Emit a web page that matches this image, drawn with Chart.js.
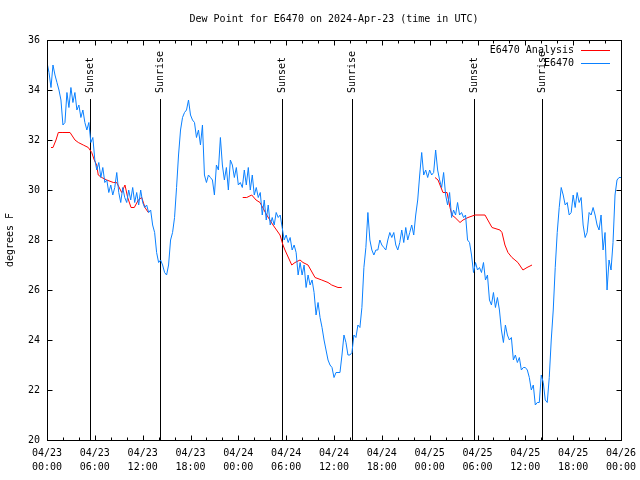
<!DOCTYPE html>
<html>
<head>
<meta charset="utf-8">
<script src="https://cdn.jsdelivr.net/npm/chart.js@4"></script>
<style>
  body { margin: 0; background: #fff; }
  canvas { display: block; }
</style>
</head>
<body>
<canvas id="dewChart" width="640" height="480"></canvas>
<script>
// Dew point, E6470 - x values are hours after 04/23 00:00 UTC

// station obs, one value every 15 minutes
const obsStepHours = 0.25;
const observedDew = [
    35.1, 34.7, 34.1, 35.0, 34.6, 34.3, 34.0, 33.6, 32.6, 32.7,
    33.9, 33.3, 34.1, 33.5, 33.9, 33.2, 33.4, 32.9, 33.2, 32.7,
    32.4, 32.7, 31.9, 32.1, 31.2, 30.8, 31.1, 30.5, 30.9, 30.3,
    30.4, 29.9, 30.2, 29.8, 30.1, 30.7, 29.9, 29.5, 30.1, 29.7,
    29.5, 30.0, 29.6, 30.1, 29.5, 29.9, 29.4, 30.0, 29.5, 29.3,
    29.4, 29.1, 29.2, 28.6, 28.3, 27.5, 27.1, 27.2, 27.0, 26.7,
    26.6, 27.0, 28.0, 28.3, 28.9, 30.1, 31.4, 32.4, 32.9, 33.1,
    33.2, 33.6, 33.0, 32.8, 32.7, 32.1, 32.4, 31.8, 32.6, 30.6,
    30.3, 30.6, 30.5, 30.4, 29.8, 31.0, 30.8, 32.1, 31.0, 30.4,
    30.9, 30.0, 31.2, 31.0, 30.5, 30.9, 30.2, 30.3, 30.1, 30.8,
    30.2, 30.9, 30.0, 30.6, 29.8, 30.1, 29.7, 29.9, 29.0, 29.6,
    28.8, 29.4, 28.6, 28.9, 28.6, 29.1, 28.9, 29.0, 28.5, 28.0,
    28.2, 27.9, 28.1, 27.6, 27.8, 27.5, 26.6, 27.1, 26.6, 27.0,
    26.1, 26.6, 26.2, 26.4, 25.9, 25.0, 25.5, 24.9, 24.5, 24.0,
    23.6, 23.2, 23.0, 22.9, 22.5, 22.7, 22.7, 22.7, 23.4, 24.2,
    23.9, 23.4, 23.4, 23.5, 24.2, 24.1, 24.6, 24.5, 25.3, 26.9,
    27.7, 29.1, 28.0, 27.6, 27.4, 27.6, 27.6, 28.0, 27.8, 27.7,
    27.6, 28.0, 28.3, 28.1, 28.3, 27.8, 27.6, 27.9, 28.4, 27.9,
    28.5, 28.0, 28.3, 28.6, 28.2, 29.0, 29.6, 30.6, 31.5, 30.6,
    30.8, 30.5, 30.8, 30.6, 30.7, 31.6, 30.8, 30.4, 30.1, 30.7,
    29.8, 29.4, 29.9, 28.9, 29.2, 29.0, 29.5, 29.0, 29.1, 28.9,
    29.0, 28.0, 27.9, 27.4, 26.7, 27.1, 26.8, 26.9, 26.7, 27.1,
    26.4, 26.6, 25.6, 25.4, 25.9, 25.3, 25.7, 25.2, 24.4, 23.9,
    24.6, 24.2, 24.0, 24.1, 23.2, 23.4, 23.1, 23.3, 22.8, 22.9,
    22.9, 22.8, 22.5, 22.0, 22.2, 21.4, 21.5, 21.5, 22.6, 22.3,
    21.6, 21.5, 22.5, 24.0, 25.2, 26.9, 28.3, 29.3, 30.1, 29.8,
    29.4, 29.5, 29.0, 29.1, 29.8, 29.3, 29.9, 29.5, 29.7, 28.6,
    28.1, 28.3, 29.1, 29.0, 29.3, 29.0, 28.6, 28.4, 29.0, 27.6,
    28.3, 26.0, 27.2, 26.8, 27.9, 29.8, 30.4, 30.5, 30.5
];

// analysis, null = no analysis for that stretch
const analysisHours = [
    0.50, 0.75, 1.13, 1.42, 2.00, 2.89, 3.51, 3.93, 4.55, 5.18,
    5.61, 5.93, 6.23, 6.43, 6.86, 7.49, 8.32, 8.74, 9.37, 9.78,
    10.12, 10.54, 10.95, 11.45, 11.88, 12.29, 12.71, 18.00,
    24.55, 25.05, 25.68, 26.22, 26.72, 27.56, 28.35, 29.23, 29.60, 29.85,
    30.70, 31.11, 31.74, 32.11, 32.74, 33.62, 34.46, 35.25, 35.71, 36.50,
    36.97, 43.00,
    48.67, 49.05, 49.67, 50.18, 50.55, 50.80, 51.18, 51.81, 52.18, 52.81,
    53.69, 54.94, 55.82, 56.82, 57.07, 57.44, 57.82, 58.32, 58.70, 59.07,
    59.70, 60.21, 60.84
];
const analysisDew = [
    31.7, 31.7, 32.0, 32.3, 32.3, 32.3, 32.0, 31.9, 31.8, 31.7,
    31.5, 31.2, 31.0, 30.6, 30.5, 30.4, 30.3, 30.3, 29.9, 30.2,
    29.7, 29.3, 29.3, 29.6, 29.7, 29.3, 29.1, null,
    29.7, 29.7, 29.8, 29.6, 29.5, 29.0, 28.6, 28.2, 27.8, 27.6,
    27.0, 27.1, 27.2, 27.1, 27.0, 26.5, 26.4, 26.3, 26.2, 26.1,
    26.1, null,
    30.5, 30.4, 29.9, 29.9, 29.3, 29.0, 28.9, 28.7, 28.8, 28.9,
    29.0, 29.0, 28.5, 28.4, 28.3, 27.8, 27.5, 27.3, 27.2, 27.1,
    26.8, 26.9, 27.0
];

const sunEventHours = [5.43, 14.21, 29.52, 38.22, 53.60, 62.13];
const sunEventNames = ['Sunset', 'Sunrise', 'Sunset', 'Sunrise', 'Sunset', 'Sunrise'];

const xTickDays = ['04/23', '04/23', '04/23', '04/23', '04/24', '04/24', '04/24',
                   '04/24', '04/25', '04/25', '04/25', '04/25', '04/26'];
const xTickTimes = ['00:00', '06:00', '12:00', '18:00', '00:00', '06:00', '12:00',
                    '18:00', '00:00', '06:00', '12:00', '18:00', '00:00'];
const yTickValues = [20, 22, 24, 26, 28, 30, 32, 34, 36];

const MONO = "'DejaVu Sans Mono', 'Liberation Mono', monospace";

// ─── gnuplot-ish decorations: sun lines, frame, inward ticks, legend ───
const gnuplotLook = {
    id: 'gnuplotLook',
    beforeDatasetsDraw(chart) {
        const { ctx, chartArea: area, scales: { x } } = chart;
        ctx.save();
        ctx.strokeStyle = '#000';
        ctx.fillStyle = '#000';
        ctx.lineWidth = 1;
        ctx.font = '10px ' + MONO;
        sunEventHours.forEach((h, i) => {
            const px = Math.round(x.getPixelForValue(h)) + 0.5;
            ctx.beginPath();
            ctx.moveTo(px, area.top + 59);
            ctx.lineTo(px, area.bottom);
            ctx.stroke();

            ctx.save();
            ctx.translate(px, area.top + 53);
            ctx.rotate(-Math.PI / 2);
            ctx.textAlign = 'left';
            ctx.textBaseline = 'middle';
            ctx.fillText(sunEventNames[i], 0, 0);
            ctx.restore();
        });
        ctx.restore();
    },
    afterDraw(chart) {
        const { ctx, chartArea: area, scales: { x, y } } = chart;
        ctx.save();
        ctx.strokeStyle = '#000';
        ctx.lineWidth = 1;
        const l = Math.round(area.left) + 0.5, r = Math.round(area.right) + 0.5;
        const t = Math.round(area.top) + 0.5, b = Math.round(area.bottom) + 0.5;
        ctx.strokeRect(l, t, r - l, b - t);

        ctx.beginPath();
        yTickValues.forEach(v => {
            const py = Math.round(y.getPixelForValue(v)) + 0.5;
            ctx.moveTo(l, py); ctx.lineTo(l + 5, py);
            ctx.moveTo(r, py); ctx.lineTo(r - 5, py);
        });
        for (let h = 0; h <= 72; h += 2) {
            const px = Math.round(x.getPixelForValue(h)) + 0.5;
            const len = h % 6 === 0 ? 5 : 3;
            ctx.moveTo(px, b); ctx.lineTo(px, b - len);
            ctx.moveTo(px, t); ctx.lineTo(px, t + len);
        }
        ctx.stroke();

        // legend, top right inside the frame
        ctx.font = '10px ' + MONO;
        ctx.textAlign = 'right';
        ctx.textBaseline = 'middle';
        chart.data.datasets.forEach((ds, i) => {
            const rowY = Math.round(area.top + 10 + i * 12.5) + 0.5;
            ctx.fillStyle = '#000';
            ctx.fillText(ds.label, area.right - 47, rowY);
            ctx.strokeStyle = ds.borderColor;
            ctx.beginPath();
            ctx.moveTo(area.right - 40, rowY);
            ctx.lineTo(area.right - 11, rowY);
            ctx.stroke();
        });
        ctx.restore();
    }
};

Chart.defaults.color = '#000';
Chart.defaults.font.family = MONO;
Chart.defaults.font.size = 10;

const obsPoints = observedDew.map((v, i) => ({ x: i * obsStepHours, y: v }));
const anaPoints = analysisHours.map((h, i) => ({ x: h, y: analysisDew[i] }));

new Chart(document.getElementById('dewChart'), {
    type: 'line',
    data: {
        datasets: [{
            label: 'E6470 Analysis',
            data: anaPoints,
            borderColor: '#ff0000',
            borderWidth: 1,
            pointRadius: 0,
            spanGaps: false,
            order: 1
        }, {
            label: 'E6470',
            data: obsPoints,
            borderColor: '#0a80ff',
            borderWidth: 1,
            pointRadius: 0,
            order: 0
        }]
    },
    options: {
        responsive: false,
        animation: false,
        layout: { padding: { left: 0, right: 19, top: 0, bottom: 0 } },
        plugins: {
            legend: { display: false },
            tooltip: { enabled: false },
            title: {
                display: true,
                fullSize: false,
                text: 'Dew Point for E6470 on 2024-Apr-23 (time in UTC)',
                color: '#000',
                font: { family: MONO, size: 10, weight: 'normal', lineHeight: 1.2 },
                padding: { top: 13, bottom: 15 }
            }
        },
        scales: {
            x: {
                type: 'linear',
                min: 0,
                max: 72,
                grid: { display: false, drawTicks: false },
                border: { display: false },
                ticks: {
                    stepSize: 6,
                    autoSkip: false,
                    maxRotation: 0,
                    padding: 6,
                    font: { family: MONO, size: 10, lineHeight: 1.4 },
                    callback: (v, i) => [xTickDays[i], xTickTimes[i]]
                },
                afterFit: s => {
                    s.height = 40;
                    // end labels may hang past the frame, as in gnuplot
                    s.paddingLeft = 0;
                    s.paddingRight = 0;
                }
            },
            y: {
                min: 20,
                max: 36,
                grid: { display: false, drawTicks: false },
                border: { display: false },
                ticks: { stepSize: 2, padding: 7, font: { family: MONO, size: 10 } },
                title: {
                    display: true,
                    text: 'degrees F',
                    font: { family: MONO, size: 10 },
                    padding: { top: 4, bottom: 0 }
                },
                afterFit: s => { s.width = 47; }
            }
        }
    },
    plugins: [gnuplotLook]
});
</script>
</body>
</html>
